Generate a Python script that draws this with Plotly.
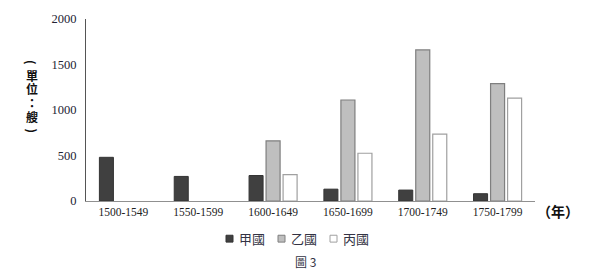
import plotly.graph_objects as go

periods = ["1500-1549", "1550-1599", "1600-1649", "1650-1699", "1700-1749", "1750-1799"]
jia = [480, 270, 280, 130, 120, 80]
yi = [None, None, 660, 1110, 1660, 1290]
bing = [None, None, 290, 525, 735, 1130]
y_ticks = [0, 500, 1000, 1500, 2000]
y_title_chars = ["(", "單", "位", "：", "艘", ")"]

W, H = 606, 275
L, R, T, B = 86, 535, 15, 201
SERIF = "Liberation Serif, Times New Roman, serif"
CJK = "Noto Sans CJK TC"

series = [
    dict(name="甲國", y=jia, fill="#404040", line="#333333", lw=1),
    dict(name="乙國", y=yi, fill="#bfbfbf", line="#7f7f7f", lw=1.2),
    dict(name="丙國", y=bing, fill="#ffffff", line="#a0a0a0", lw=1.2),
]

fig = go.Figure()
for s in series:
    fig.add_bar(x=periods, y=s["y"], name=s["name"],
                marker=dict(color=s["fill"], line=dict(color=s["line"], width=s["lw"])))

fig.update_layout(
    width=W, height=H,
    margin=dict(l=L, r=W - R, t=T, b=H - B),
    plot_bgcolor="white", paper_bgcolor="white",
    barmode="group", bargap=0.318, bargroupgap=0.176,
    showlegend=False,
    xaxis=dict(showline=True, linecolor="#909090", linewidth=1.2, ticks="",
               tickfont=dict(family=SERIF, size=11.5, color="#222222"),
               showgrid=False),
    yaxis=dict(range=[0, 2000], tickvals=y_ticks, showline=True, linecolor="#555555",
               linewidth=1, ticks="", showgrid=False, zeroline=False,
               tickfont=dict(family=SERIF, size=12.5, color="#222233"),
               ticklabelstandoff=6),
)

def px(x):
    return (x - L) / (R - L)

def py(y):
    return (B - y) / (B - T)

# vertical y-axis title (upright characters stacked)
ys = [59, 72.5, 86.5, 100.5, 114.5, 129]
for ch, yy in zip(y_title_chars, ys):
    rot = 90 if ch in "()" else 0
    fig.add_annotation(text=f"<b>{ch}</b>", xref="paper", yref="paper",
                       x=px(32), y=py(yy),
                       xanchor="center", yanchor="middle", showarrow=False,
                       textangle=rot,
                       font=dict(family=CJK, size=12, color="#111111"))

# compact legend, as in reference
leg_x = [226, 278, 330]
for s, lx in zip(series, leg_x):
    fig.add_shape(type="rect", xref="paper", yref="paper",
                  x0=px(lx), x1=px(lx + 7), y0=py(243), y1=py(236),
                  fillcolor=s["fill"], line=dict(color=s["line"], width=1))
    fig.add_annotation(text=s["name"], xref="paper", yref="paper",
                       x=px(lx + 11), y=py(239.5), xanchor="left", yanchor="middle",
                       showarrow=False,
                       font=dict(family=CJK, size=13, color="#333344"))

fig.add_annotation(text="<b>（年）</b>", xref="paper", yref="paper",
                   x=px(558), y=py(211),
                   xanchor="center", yanchor="middle", showarrow=False,
                   font=dict(family=CJK, size=14, color="#111111"))
fig.add_annotation(text="圖 3", xref="paper", yref="paper",
                   x=px(305), y=py(263),
                   xanchor="center", yanchor="middle", showarrow=False,
                   font=dict(family=CJK, size=12, color="#333344"))

fig.write_html("out.html")
